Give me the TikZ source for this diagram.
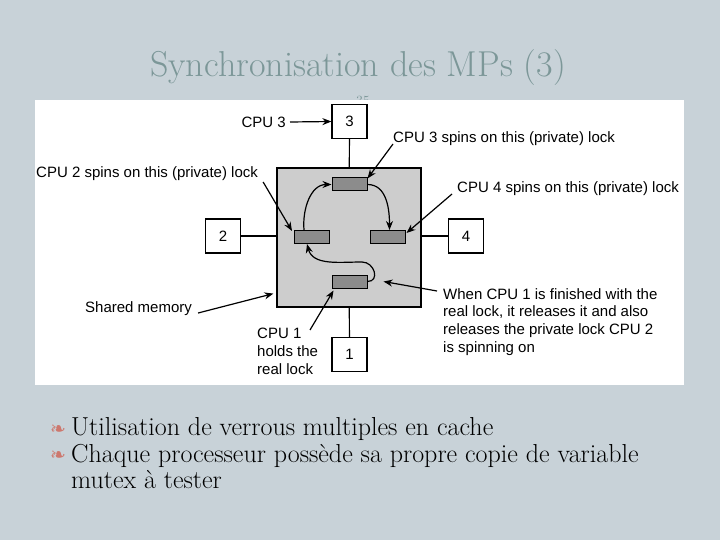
\documentclass[tikz,border=0pt]{standalone}
\usepackage{fontspec}
\setsansfont{Liberation Sans}
\newfontfamily\pucefont{DejaVu Sans}
\usetikzlibrary{arrows.meta}
\begin{document}
\begin{tikzpicture}[x=1pt,y=-1pt,
cpu/.style={draw,fill=white,line width=1.2pt,minimum width=35pt,minimum height=34pt,inner sep=0pt,font=\sffamily\fontsize{15}{18}\selectfont},
memoire/.style={draw,fill=gris,line width=1.2pt,minimum width=144pt,minimum height=139pt,inner sep=0pt},
verrou/.style={draw,fill=grisfonce,line width=1pt,minimum width=35pt,minimum height=13pt,inner sep=0pt},
texte/.style={font=\sffamily\fontsize{15}{17.7}\selectfont,inner sep=0pt,align=left},
lien/.style={line width=1.2pt},
fleche/.style={-{Stealth[length=9pt,width=7pt]},line width=1.2pt},
puce/.style={text=rose,font=\pucefont\fontsize{19}{19}\selectfont,inner sep=0pt},
corps/.style={font=\fontsize{26}{26}\selectfont,anchor=base west,inner sep=0pt}]
\definecolor{fond}{RGB}{200,210,216}
\definecolor{titre}{RGB}{124,151,152}
\definecolor{gris}{RGB}{205,205,205}
\definecolor{grisfonce}{RGB}{140,140,140}
\definecolor{rose}{RGB}{205,120,110}
\fill[fond] (0,0) rectangle (720,540);
\useasboundingbox (0,0) rectangle (720,540);
\node[text=titre,font=\fontsize{36}{36}\selectfont,anchor=base] (titre) at (358,77) {Synchronisation des MPs (3)};
\node[text=titre,font=\fontsize{14}{14}\selectfont,anchor=base] (numero) at (363,106) {35};
\fill[white] (35,100) rectangle (684,385);
\node[memoire] (mem) at (349,237.5) {};
\node[cpu] (cpu3) at (349.5,121.5) {3};
\node[cpu] (cpu2) at (223,236) {2};
\node[cpu] (cpu4) at (466,236) {4};
\node[cpu] (cpu1) at (349.5,354.5) {1};
\node[verrou] (v3) at (349.5,184.5) {};
\node[verrou] (v2) at (312,237) {};
\node[verrou] (v4) at (387.5,237) {};
\node[verrou] (v1) at (349.5,281.5) {};
\draw[lien] (cpu3) -- (mem);
\draw[lien] (cpu1) -- (mem);
\draw[lien] (cpu2) -- (cpu2 -| mem.west);
\draw[lien] (cpu4) -- (cpu4 -| mem.east);
\draw[fleche] ([xshift=-8pt]v2.north) to[out=95,in=180] (v3.west);
\draw[fleche] (v3.east) to[out=0,in=90] ([xshift=2pt]v4.north);
\draw[fleche] (v1.east) to[out=0,in=0,looseness=1.6] (362,262) to[out=180,in=-75] ([xshift=-5pt]v2.south);
\node[texte,anchor=east] (lcpu3) at (286,122) {CPU 3};
\node[texte,anchor=west] (note2) at (36,174) {CPU 2 spins on this (private) lock};
\node[texte,anchor=west] (note3) at (393,139) {CPU 3 spins on this (private) lock};
\node[texte,anchor=west] (note4) at (457,189) {CPU 4 spins on this (private) lock};
\node[texte,anchor=west] (notemem) at (85,309) {Shared memory};
\node[texte,anchor=north west] (note1) at (257,328) {CPU 1\\holds the\\real lock};
\node[texte,anchor=north west] (notefin) at (443,288) {When CPU 1 is finished with the\\real lock, it releases it and also\\releases the private lock CPU 2\\is spinning on};
\draw[fleche] ([xshift=4pt]lcpu3.east) -- (cpu3.west);
\draw[fleche] ([xshift=5pt,yshift=-8pt]note2.east) -- ([xshift=-2pt,yshift=-1pt]v2.north west);
\draw[fleche] ([yshift=-5pt]note3.west) -- ([yshift=-1pt]v3.north east);
\draw[fleche] ([xshift=-5pt,yshift=-5pt]note4.west) -- ([xshift=1pt,yshift=-3pt]v4.north east);
\draw[fleche] ([xshift=6pt,yshift=-4pt]notemem.east) -- ([xshift=-3pt,yshift=14pt]mem.south west);
\draw[fleche] ([xshift=53pt,yshift=-2pt]note1.north west) -- ([xshift=2pt,yshift=-2pt]v1.south west);
\draw[fleche] ([xshift=-6pt,yshift=-3pt]notefin.north west) -- ([xshift=16pt]v1.east);
\node[puce] (p1) at (58,430) {❧};
\node[puce] (p2) at (58,456) {❧};
\node[corps] (ligne1) at (71,435) {Utilisation de verrous multiples en cache};
\node[corps] (ligne2) at (71,462) {Chaque processeur possède sa propre copie de variable};
\node[corps] (ligne3) at (71,488) {mutex à tester};
\end{tikzpicture}
\end{document}
